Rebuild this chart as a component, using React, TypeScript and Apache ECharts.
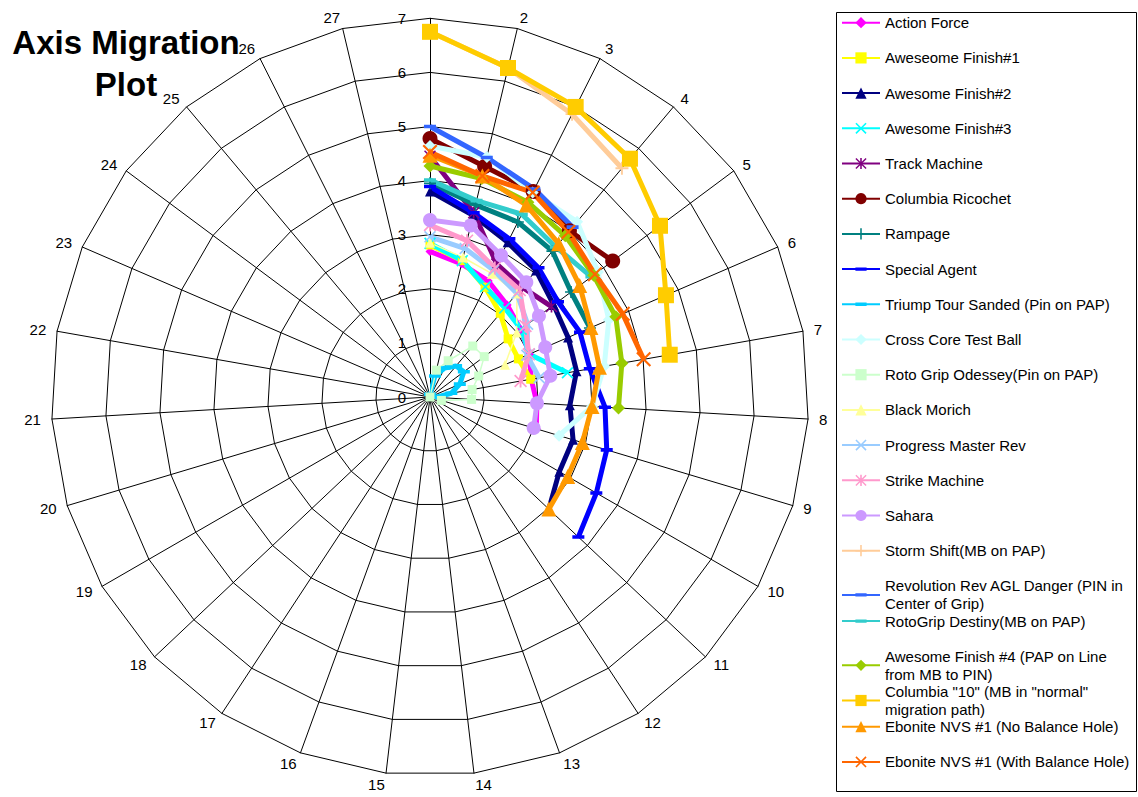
import React, { useEffect, useRef } from 'react';
import * as echarts from 'echarts';

// ---------- data ----------
const categories = ['1', '2', '3', '4', '5', '6', '7', '8', '9', '10', '11', '12', '13', '14', '15', '16', '17', '18', '19', '20', '21', '22', '23', '24', '25', '26', '27'];

const actionForce = [2.69, 2.53, 2.4, 2.22, 2.09, 2.0, 1.9, 1.98, 2.05];
const aweseomeFinish1 = [2.81, 2.59, 2.27, 2.02, 1.8, 1.78, 1.89];
const awesomeFinish2 = [3.8, 3.45, 3.2, 3.05, 2.85, 2.78, 2.75, 2.59, 2.76, 2.76, 3.02];
const awesomeFinish3 = [2.84, 2.59, 2.28, 2.15, 2.1, 2.0, 2.58];
const trackMachine = [4.45, 3.5, 2.75, 2.65, 2.8];
const columbiaRicochet = [4.78, 4.38, 4.25, 4.01, 4.21];
const rampage = [3.95, 3.65, 3.62, 3.52, 3.25, 3.22];
const specialAgent = [3.89, 3.5, 3.27, 3.12, 2.95, 3.02, 3.0, 3.24, 3.41, 3.55, 3.77];
const triumpTour = [0.05, 0.4, 0.6, 0.75, 0.78, 0.6, 0.4, 0.1];
const crossCore = [4.64, 4.56, 4.23, 4.23, 3.87, 3.6, 3.27, 3.0, 2.49];
const rotoGripOdessey = [0, 0.51, 0.75, 1.23, 1.25, 0.98, 0.79, 0.77, 0.22];
const blackMorich = [2.85, 2.65, 2.55, 2.5, 2.0, 1.51];
const progressMaster = [2.96, 2.82, 2.62, 2.5, 2.25, 1.95, 2.05];
const strikeMachine = [3.18, 2.97, 2.67, 2.58, 2.2, 1.99, 1.7];
const sahara = [3.27, 3.26, 2.93, 2.77, 2.51, 2.32, 2.26, 1.98, 2.0];
const stormShift = [6.75, 6.25, 5.85, 5.52];
const revolutionRev = [5.0, 4.55, 4.3, 4.1];
const rotoGripDestiny = [4.01, 3.73, 3.78, 3.62, 3.72];
const awesomeFinish4 = [4.27, 4.15, 4.03, 3.89, 3.77, 3.74, 3.6, 3.49];
const columbia10 = [6.75, 6.25, 6.0, 5.75, 5.3, 4.75, 4.5];
const eboniteNoHole = [4.47, 4.2, 3.97, 3.7, 3.45, 3.24, 3.18, 3.0, 2.94, 2.94, 3.02];
const eboniteWithHole = [4.53, 4.2, 4.23, 3.98, 3.8, 3.88, 4.01];

const seriesNames = [
  'Action Force',
  'Aweseome Finish#1',
  'Awesome Finish#2',
  'Awesome Finish#3',
  'Track Machine',
  'Columbia Ricochet',
  'Rampage',
  'Special Agent',
  'Triump Tour Sanded (Pin on PAP)',
  'Cross Core Test Ball',
  'Roto Grip Odessey(Pin on PAP)',
  'Black Morich',
  'Progress Master Rev',
  'Strike Machine',
  'Sahara',
  'Storm Shift(MB on PAP)',
  'Revolution Rev AGL Danger (PIN in Center of Grip)',
  'RotoGrip Destiny(MB on PAP)',
  'Awesome Finish #4 (PAP on Line from MB to PIN)',
  'Columbia "10" (MB in "normal" migration path)',
  'Ebonite NVS #1 (No Balance Hole)',
  'Ebonite NVS #1 (With Balance Hole)',
];

const legendLabels = [
  'Action Force',
  'Aweseome Finish#1',
  'Awesome Finish#2',
  'Awesome Finish#3',
  'Track Machine',
  'Columbia Ricochet',
  'Rampage',
  'Special Agent',
  'Triump Tour Sanded (Pin on PAP)',
  'Cross Core Test Ball',
  'Roto Grip Odessey(Pin on PAP)',
  'Black Morich',
  'Progress Master Rev',
  'Strike Machine',
  'Sahara',
  'Storm Shift(MB on PAP)',
  'Revolution Rev AGL Danger (PIN in\nCenter of Grip)',
  'RotoGrip Destiny(MB on PAP)',
  'Awesome Finish #4 (PAP on Line\nfrom MB to PIN)',
  'Columbia "10" (MB in "normal"\nmigration path)',
  'Ebonite NVS #1 (No Balance Hole)',
  'Ebonite NVS #1 (With Balance Hole)',
];

const seriesValues = [
  actionForce, aweseomeFinish1, awesomeFinish2, awesomeFinish3, trackMachine,
  columbiaRicochet, rampage, specialAgent, triumpTour, crossCore, rotoGripOdessey,
  blackMorich, progressMaster, strikeMachine, sahara, stormShift, revolutionRev,
  rotoGripDestiny, awesomeFinish4, columbia10, eboniteNoHole, eboniteWithHole,
];

// ---------- styles ----------
const X_SYM = 'path://M0,1 L1,0 L5,4 L9,0 L10,1 L6,5 L10,9 L9,10 L5,6 L1,10 L0,9 L4,5 Z';
const STAR_SYM = 'path://M4.3,0 L5.7,0 L5.7,10 L4.3,10 Z M0,0.9 L0.9,0 L10,9.1 L9.1,10 Z M9.1,0 L10,0.9 L0.9,10 L0,9.1 Z';
const PLUS_SYM = 'path://M4.3,0 L5.7,0 L5.7,10 L4.3,10 Z M0,4.3 L10,4.3 L10,5.7 L0,5.7 Z';
const DASH_SYM = 'path://M0,0 L0.01,0 L0.01,0.01 L0,0.01 Z M0,3.5 L10,3.5 L10,6.5 L0,6.5 Z M9.99,9.99 L10,9.99 L10,10 L9.99,10 Z';

const seriesColors = [
  '#FF00FF', '#FFFF00', '#000080', '#00FFFF', '#800080', '#800000', '#008080', '#0000FF',
  '#00CCFF', '#CCFFFF', '#CCFFCC', '#FFFF99', '#99CCFF', '#FF99CC', '#CC99FF', '#FFCC99',
  '#3366FF', '#33CCCC', '#99CC00', '#FFCC00', '#FF9900', '#FF6600',
];
const seriesSymbols = [
  'diamond', 'rect', 'triangle', X_SYM, STAR_SYM, 'circle', PLUS_SYM, DASH_SYM,
  DASH_SYM, 'diamond', 'rect', 'triangle', X_SYM, STAR_SYM, 'circle', PLUS_SYM,
  DASH_SYM, DASH_SYM, 'diamond', 'rect', 'triangle', X_SYM,
];
const seriesSymbolSizes = [
  9, 9, 10, 12, 12, 15, 12, 12,
  12, 12, 9, 10, 12, 13, 14, 13,
  12, 12, 13, 16, 15, 15,
];
const seriesLineWidths = [
  5, 5, 5, 5, 5, 5, 5, 5,
  5, 5, 1.5, 1.5, 5, 5, 5, 5,
  5, 5, 5, 5, 5, 5,
];

const CX = 430;
const CY = 397;
const R = 378.7;
const FONT = '"Liberation Sans", Arial, sans-serif';

export default function App() {
  const ref = useRef<HTMLDivElement>(null);

  useEffect(() => {
    if (!ref.current) return;
    const chart = echarts.init(ref.current, undefined, { renderer: 'svg' });

    // radar goes counter-clockwise, so list indicators 1, 27, 26, ..., 2
    const radarOrder = [categories[0], ...categories.slice(1).reverse()];
    const indicator = radarOrder.map((c, i) => {
      const ind: any = { name: c === '1' ? '' : c, min: 0, max: 7 };
      if (i === 0) {
        ind.axisLabel = {
          show: true,
          margin: 24,
          color: '#000',
          fontSize: 15,
          fontFamily: FONT,
          showMinLabel: true,
          showMaxLabel: true,
        };
      }
      return ind;
    });

    const series = seriesNames.map((name, i) => ({
      type: 'line',
      name,
      coordinateSystem: 'polar',
      polarIndex: 0,
      data: seriesValues[i],
      symbol: seriesSymbols[i],
      symbolSize: seriesSymbolSizes[i],
      showSymbol: true,
      showAllSymbol: true,
      connectNulls: false,
      lineStyle: { color: seriesColors[i], width: seriesLineWidths[i] },
      itemStyle: { color: seriesColors[i], borderWidth: 0 },
      emphasis: { disabled: true },
      silent: true,
    }));

    const rowTop = 22.7;
    const rowStep = 35.2;
    const legends = seriesNames.map((name, i) => {
      const twoLine = legendLabels[i].indexOf('\n') >= 0;
      const center = rowTop + rowStep * i;
      return {
        show: true,
        orient: 'vertical',
        left: 841,
        top: twoLine ? center - 18 : center - 8,
        padding: 0,
        itemWidth: 38,
        itemHeight: 14,
        selectedMode: false,
        data: [name],
        formatter: () => legendLabels[i],
        textStyle: {
          color: '#000',
          fontSize: 15,
          fontFamily: FONT,
          lineHeight: twoLine ? 18 : 16,
          padding: twoLine ? [18, 0, 0, 0] : 0,
        },
      };
    });

    chart.setOption({
      animation: false,
      backgroundColor: '#fff',
      radar: {
        center: [CX, CY],
        radius: R,
        startAngle: 90,
        shape: 'polygon',
        splitNumber: 7,
        nameGap: 11,
        axisName: { color: '#000', fontSize: 15, fontFamily: FONT },
        axisLine: { lineStyle: { color: '#000', width: 1 } },
        splitLine: { lineStyle: { color: '#000', width: 1 } },
        splitArea: { show: false },
        axisTick: { show: false },
        axisLabel: { show: false },
        indicator,
        silent: true,
        z: 1,
      },
      polar: { center: [CX, CY], radius: R },
      angleAxis: {
        type: 'category',
        data: categories,
        boundaryGap: false,
        startAngle: 90,
        clockwise: true,
        axisLine: { show: false },
        axisTick: { show: false },
        axisLabel: { show: false },
        splitLine: { show: false },
      },
      radiusAxis: {
        type: 'value',
        min: 0,
        max: 7,
        interval: 1,
        axisLine: { show: false },
        axisTick: { show: false },
        axisLabel: { show: false },
        splitLine: { show: false },
      },
      legend: legends,
      graphic: [
        {
          type: 'rect',
          shape: { x: 836.5, y: 12.5, width: 300, height: 779 },
          style: { fill: 'none', stroke: '#000', lineWidth: 1 },
          silent: true,
          z: 0,
        },
        {
          type: 'text',
          x: 126,
          y: 42,
          style: {
            text: 'Axis Migration',
            fill: '#000',
            fontSize: 33,
            fontWeight: 'bold',
            fontFamily: FONT,
            align: 'center',
            verticalAlign: 'middle',
          },
          z: 10,
        },
        {
          type: 'text',
          x: 126,
          y: 84,
          style: {
            text: 'Plot',
            fill: '#000',
            fontSize: 33,
            fontWeight: 'bold',
            fontFamily: FONT,
            align: 'center',
            verticalAlign: 'middle',
          },
          z: 10,
        },
      ],
      series,
    });

    return () => chart.dispose();
  }, []);

  return (
    <div
      ref={ref}
      style={{ position: 'absolute', left: 0, top: 0, width: 1138, height: 797, background: '#fff' }}
    />
  );
}
